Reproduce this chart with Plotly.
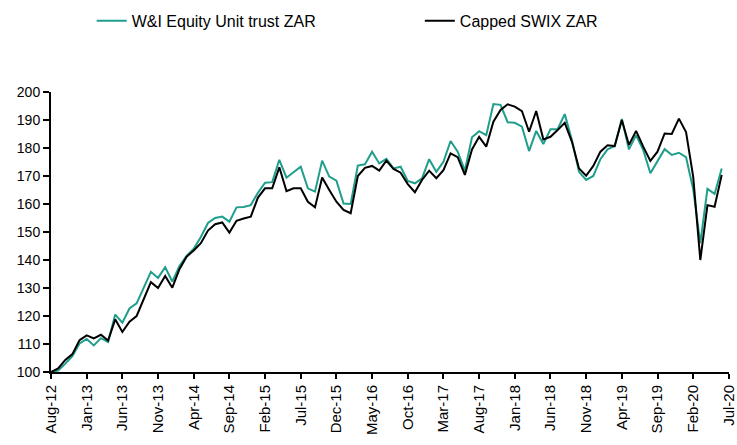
import plotly.graph_objects as go

tick_labels = ["Aug-12", "Jan-13", "Jun-13", "Nov-13", "Apr-14", "Sep-14", "Feb-15", "Jul-15",
               "Dec-15", "May-16", "Oct-16", "Mar-17", "Aug-17", "Jan-18", "Jun-18", "Nov-18",
               "Apr-19", "Sep-19", "Feb-20", "Jul-20"]

wi_equity = [100, 100.5, 103, 105.7, 110.2, 111.8, 109.5, 112.1, 110.7, 120.5,
             117.6, 122.7, 124.5, 129.9, 135.8, 133.6, 137.4, 132.3, 137.9, 141.5,
             144, 148.2, 153.2, 155, 155.5, 153.7, 158.8, 158.9, 159.6, 164,
             167.6, 167.8, 175.8, 169.4, 171.2, 173.3, 165.6, 164.4, 175.5, 169.8,
             168.3, 160.2, 160, 173.7, 174.2, 178.7, 174.5, 176.1, 172.7, 173.3,
             168.2, 167.4, 169.2, 176, 171.5, 175.1, 182.5, 178.7, 171.9, 183.8,
             186, 184.6, 195.7, 195.4, 189.2, 189, 187.6, 178.9, 186.1, 181.4,
             186.7, 186.7, 192.1, 182.9, 171.5, 168.6, 170, 176, 179.5, 180.7,
             190.4, 179.5, 184.6, 179.3, 171, 175.4, 179.6, 177.5, 178.3, 176.7,
             165.3, 146, 165.4, 163.6, 172.7]

capped_swix = [100, 101.3, 104.3, 106.4, 111.4, 113.1, 112, 113.3, 111.2, 118.8,
               114.3, 118, 120, 126, 132.1, 130, 134.3, 130.1, 136.7, 141.2,
               143.4, 146, 150.5, 152.8, 153.4, 149.8, 154, 154.8, 155.5, 162.3,
               165.6, 165.6, 173.1, 164.6, 165.6, 165.6, 160.8, 158.8, 169.5, 165,
               160.8, 157.9, 156.7, 170, 172.9, 173.6, 171.9, 175.5, 172.5, 171.2,
               167.1, 164.2, 168.6, 171.9, 169.2, 172.1, 178.1, 176.7, 170.4, 179.5,
               184, 180.5, 189.4, 193.6, 195.6, 194.8, 193.2, 185.8, 193.2, 183.1,
               184, 186.4, 189, 182.3, 172.7, 170.1, 173.6, 178.7, 181, 180.7,
               190, 181.1, 186.1, 180.5, 175.4, 178.7, 185.2, 185, 190.5, 185.7,
               169.8, 140, 159.6, 159, 170.4]

x_idx = list(range(len(wi_equity)))
tick_pos = [i * 5 for i in range(len(tick_labels))]

fig = go.Figure()
fig.add_trace(go.Scatter(x=x_idx, y=wi_equity, mode="lines", name="W&I Equity Unit trust ZAR",
                         line=dict(color="#1f9e8c", width=2), legend="legend"))
fig.add_trace(go.Scatter(x=x_idx, y=capped_swix, mode="lines", name="Capped SWIX ZAR",
                         line=dict(color="#000000", width=2), legend="legend2"))

xfont = dict(family="Liberation Sans, Arial, sans-serif", size=15, color="#000000")
yfont = dict(family="Liberation Sans, Arial, sans-serif", size=14, color="#000000")
legfont = dict(family="Liberation Sans, Arial, sans-serif", size=16, color="#000000")

fig.update_layout(
    width=737, height=445,
    margin=dict(l=51, r=8, t=92, b=73, autoexpand=False),
    paper_bgcolor="white", plot_bgcolor="white",
    font=yfont,
    showlegend=True,
    legend=dict(orientation="h", x=0.06, xanchor="left", y=1.254, yanchor="middle",
                font=legfont, bgcolor="rgba(0,0,0,0)"),
    legend2=dict(orientation="h", x=0.544, xanchor="left", y=1.254, yanchor="middle",
                 font=legfont, bgcolor="rgba(0,0,0,0)"),
    xaxis=dict(range=[0, 95.02], tickmode="array", tickvals=tick_pos, ticktext=tick_labels,
               tickangle=-90, showgrid=False, zeroline=False, showline=True,
               linecolor="#000", linewidth=2, ticks="outside", ticklen=5, tickwidth=1.5,
               tickcolor="#000", tickfont=xfont, ticklabeloverflow="allow"),
    yaxis=dict(range=[100, 200], tickmode="array", tickvals=list(range(100, 201, 10)),
               showgrid=False, zeroline=False, showline=True, linecolor="#000", linewidth=2,
               ticks="outside", ticklen=6, tickwidth=1.5, tickcolor="#000", tickfont=yfont),
)

fig.write_html("out.html", config={"displayModeBar": False},
               post_script="document.body.style.margin='0';document.body.style.padding='0';")
